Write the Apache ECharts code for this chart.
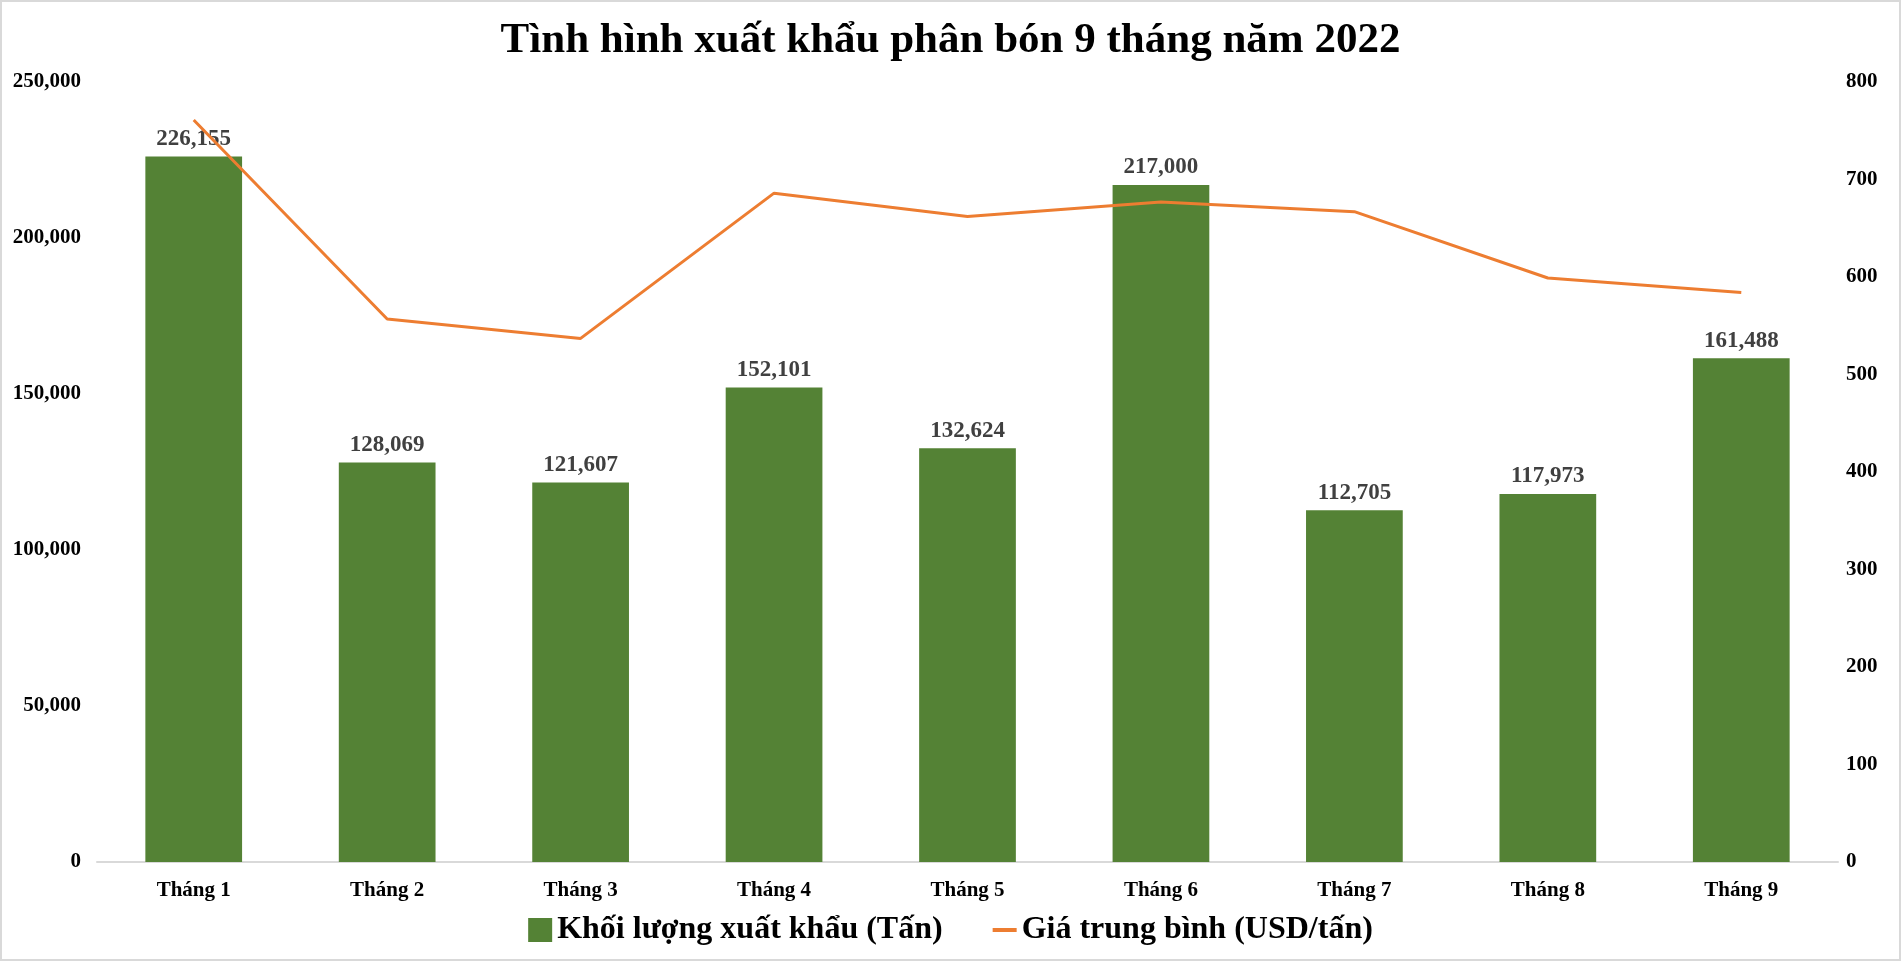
<!DOCTYPE html>
<html>
<head>
<meta charset="utf-8">
<script src="https://cdn.jsdelivr.net/npm/echarts@6/dist/echarts.min.js"></script>
<style>
  html, body { margin: 0; padding: 0; background: #fff; }
  #chart { width: 1901px; height: 961px; box-sizing: border-box; border: 2px solid #d9d9d9; }
</style>
</head>
<body>
<div id="chart"></div>
<script>
var months = ['Tháng 1','Tháng 2','Tháng 3','Tháng 4','Tháng 5','Tháng 6','Tháng 7','Tháng 8','Tháng 9'];
var volume = [226155, 128069, 121607, 152101, 132624, 217000, 112705, 117973, 161488];
var price = [761, 557, 537, 686, 662, 677, 667, 599, 584];

var font = '"Liberation Serif", "Times New Roman", serif';
var fmt = function(v){ return Number(v).toLocaleString('en-US'); };
// thin dash for the line legend, padded so it stays centred in a square box
var dashIcon = 'path://M0,0L24,0L24,0Z M0,10L24,10L24,14L0,14Z M0,24L24,24L24,24Z';

var chart = echarts.init(document.getElementById('chart'));
chart.setOption({
  animation: false,
  title: {
    text: 'Tình hình xuất khẩu phân bón 9 tháng năm 2022',
    left: 'center',
    top: 12,
    textStyle: { fontFamily: font, fontWeight: 'bold', fontSize: 43, color: '#000' }
  },
  legend: {
    bottom: 8,
    left: 'center',
    itemGap: 50,
    itemWidth: 24,
    itemHeight: 24,
    textStyle: { fontFamily: font, fontWeight: 'bold', fontSize: 32, color: '#000' },
    data: [
      { name: 'Khối lượng xuất khẩu (Tấn)', icon: 'rect' },
      { name: 'Giá trung bình (USD/tấn)', icon: dashIcon, itemStyle: { color: '#ED7D31' } }
    ]
  },
  grid: { left: 95, right: 61, top: 80, bottom: 97 },
  xAxis: {
    type: 'category',
    data: months,
    axisTick: { show: false },
    axisLine: { lineStyle: { color: '#d9d9d9', width: 2 } },
    axisLabel: { margin: 18, fontFamily: font, fontWeight: 'bold', fontSize: 21, color: '#000' }
  },
  yAxis: [
    {
      type: 'value', min: 0, max: 250000, interval: 50000,
      splitLine: { show: false },
      axisLine: { show: false },
      axisTick: { show: false },
      axisLabel: { margin: 16, formatter: fmt, fontFamily: font, fontWeight: 'bold', fontSize: 21, color: '#000' }
    },
    {
      type: 'value', min: 0, max: 800, interval: 100,
      splitLine: { show: false },
      axisLine: { show: false },
      axisTick: { show: false },
      axisLabel: { margin: 8, fontFamily: font, fontWeight: 'bold', fontSize: 21, color: '#000' }
    }
  ],
  series: [
    {
      name: 'Khối lượng xuất khẩu (Tấn)',
      type: 'bar',
      data: volume,
      barCategoryGap: '50%',
      itemStyle: { color: '#548235' },
      label: {
        show: true, position: 'top', distance: 6,
        formatter: function(p){ return fmt(p.value); },
        fontFamily: font, fontWeight: 'bold', fontSize: 23, color: '#404040'
      }
    },
    {
      name: 'Giá trung bình (USD/tấn)',
      type: 'line',
      yAxisIndex: 1,
      data: price,
      symbol: 'none',
      lineStyle: { color: '#ED7D31', width: 3 },
      itemStyle: { color: '#ED7D31' }
    }
  ]
});
</script>
</body>
</html>
